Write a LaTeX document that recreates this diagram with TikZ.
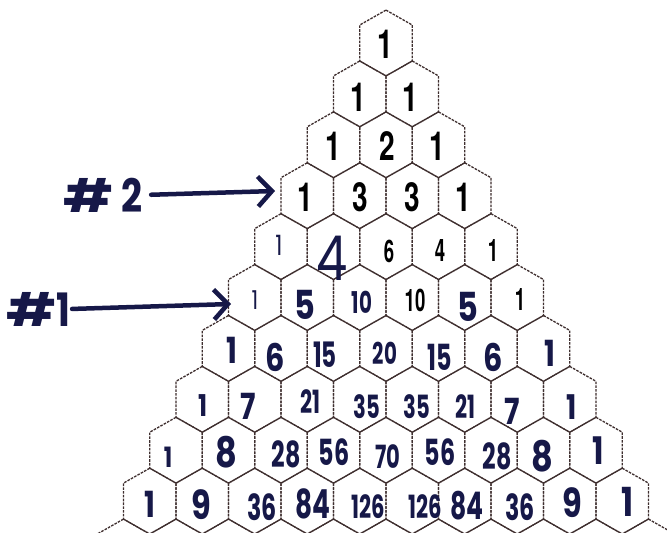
\documentclass[tikz,border=0pt]{standalone}
\usepackage{fontspec}
\usetikzlibrary{arrows.meta}
\newfontfamily\printfont[FakeStretch=0.7]{TeX Gyre Heros}
\newfontfamily\printnarrow[FakeStretch=0.6]{TeX Gyre Heros}
\newfontfamily\handfont[FakeStretch=0.8]{Poppins}
\newfontfamily\handnarrow[FakeStretch=0.66]{Poppins}
\definecolor{ink}{RGB}{22,24,72}
\definecolor{gridline}{RGB}{62,46,46}

\begin{document}
\begin{tikzpicture}[x=1pt,y=-1pt,
  cell/.style={draw=gridline, line width=1.3pt, dash pattern=on 2.6pt off 1.2pt, line join=round},
  prt/.style={font=\printfont\bfseries\fontsize{40}{40}\selectfont, text=black, inner sep=0pt},
  prn/.style={font=\printnarrow\bfseries\fontsize{31}{31}\selectfont, text=black, inner sep=0pt},
  hw/.style={font=\handfont\fontsize{#1}{#1}\selectfont\bfseries, text=ink, inner sep=0pt},
  hw/.default=34,
  hwthin/.style={font=\handfont\fontsize{#1}{#1}\selectfont, text=ink, inner sep=0pt},
  hwthin/.default=34,
  hwn/.style={font=\handnarrow\fontsize{#1}{#1}\selectfont\bfseries, text=ink, inner sep=0pt},
  hwn/.default=34,
  tag/.style={font=\handfont\fontsize{46}{46}\selectfont\bfseries, text=ink, inner sep=0pt},
  pointer/.style={draw=ink, line width=4.5pt, line cap=round,
    -{Straight Barb[length=14pt,width=30pt,line width=4.5pt]}}
]
\useasboundingbox (0,0) rectangle (667,533);
\fill[white] (0,0) rectangle (667,533);
\clip (0,0) rectangle (667,533);

% honeycomb of cells, rows 0..10
\foreach \r in {0,...,10}{
  \foreach \k in {0,...,\r}{
    \pgfmathsetmacro\cx{386+(\k-\r/2)*52.5}
    \pgfmathsetmacro\cy{43+50.9*\r}
    \draw[cell] (\cx,\cy-32.9) -- ++(26.25,14.9) -- ++(0,36) -- ++(-26.25,14.9)
      -- ++(-26.25,-14.9) -- ++(0,-36) -- cycle;
  }
}

% printed rows
\node[prt] (n0-0) at (385,44) {1};
\node[prt] (n1-0) at (358,97) {1};
\node[prt] (n1-1) at (410,97) {1};
\node[prt] (n2-0) at (333,146) {1};
\node[prt] (n2-1) at (387,146) {2};
\node[prt] (n2-2) at (437,146) {1};
\node[prt] (n3-0) at (305,197) {1};
\node[prt] (n3-1) at (360,197) {3};
\node[prt] (n3-2) at (412,197) {3};
\node[prt] (n3-3) at (463,197) {1};

% row 4
\node[hwthin=28] (n4-0) at (279,245) {1};
\node[hwthin=62] (n4-1) at (332,258) {4};
\node[prn] (n4-2) at (389,251) {6};
\node[prn] (n4-3) at (440,251) {4};
\node[prn] (n4-4) at (493,251) {1};

% row 5
\node[hwthin=26] (n5-0) at (255,300) {1};
\node[hw=40] (n5-1) at (305,305) {5};
\node[hwn=30] (n5-2) at (362,302) {10};
\node[prn] (n5-3) at (415,300) {10};
\node[hw=40] (n5-4) at (468,307) {5};
\node[prn] (n5-5) at (520,300) {1};

% row 6
\node[hw=36] (n6-0) at (232,350) {1};
\node[hw=38] (n6-1) at (275,357) {6};
\node[hwn=35] (n6-2) at (325,355) {15};
\node[hwn=30] (n6-3) at (385,353) {20};
\node[hwn=36] (n6-4) at (440,357) {15};
\node[hw=38] (n6-5) at (493,357) {6};
\node[hw=36] (n6-6) at (550,353) {1};

% row 7
\node[hw=30] (n7-0) at (203,406) {1};
\node[hw=36] (n7-1) at (248,406) {7};
\node[hwn=32] (n7-2) at (310,402) {21};
\node[hwn=32] (n7-3) at (367,407) {35};
\node[hwn=32] (n7-4) at (417,407) {35};
\node[hwn=32] (n7-5) at (465,407) {21};
\node[hw=36] (n7-6) at (512,411) {7};
\node[hw=34] (n7-7) at (572,407) {1};

% row 8
\node[hw=28] (n8-0) at (168,457) {1};
\node[hw=42] (n8-1) at (226,452) {8};
\node[hwn=36] (n8-2) at (286,454) {28};
\node[hwn=36] (n8-3) at (334,452) {56};
\node[hwn=32] (n8-4) at (388,457) {70};
\node[hwn=36] (n8-5) at (440,452) {56};
\node[hwn=36] (n8-6) at (497,456) {28};
\node[hw=42] (n8-7) at (542,456) {8};
\node[hw=38] (n8-8) at (598,451) {1};

% row 9
\node[hw=36] (n9-0) at (150,504) {1};
\node[hw=40] (n9-1) at (201,505) {9};
\node[hwn=36] (n9-2) at (262,507) {36};
\node[hwn=40] (n9-3) at (313,504) {84};
\node[hwn=32] (n9-4) at (368,507) {126};
\node[hwn=32] (n9-5) at (425,507) {126};
\node[hwn=38] (n9-6) at (467,506) {84};
\node[hwn=36] (n9-7) at (520,507) {36};
\node[hw=40] (n9-8) at (572,503) {9};
\node[hw=40] (n9-9) at (628,502) {1};

% hand-written markers
\node[tag] (tag2) at (103,195) {\scalebox{1.5}[1]{\#}\hspace{9pt}2};
\node[tag] (tag1) at (38,309) {\scalebox{1.5}[1]{\#}1};
\coordinate (tip2) at (275,191);
\coordinate (tip1) at (231,304);
\draw[pointer, shorten <=8pt] (tag2.east) -- (tip2);
\draw[pointer, shorten <=2pt] (tag1.east) -- (tip1);
\end{tikzpicture}
\end{document}
